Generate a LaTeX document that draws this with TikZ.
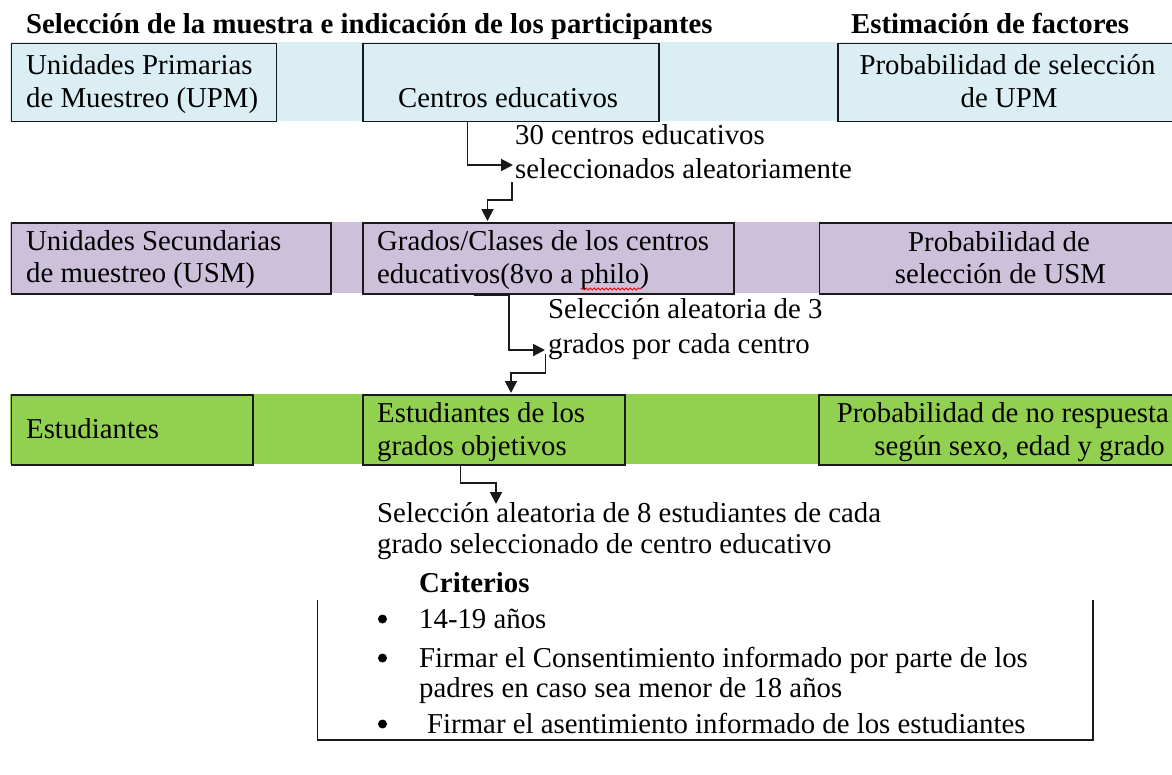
\documentclass[tikz,border=0pt]{standalone}
\usepackage{fontspec}
\setmainfont{Liberation Serif}
\usetikzlibrary{arrows.meta,decorations.pathmorphing}
\definecolor{bandblue}{HTML}{DAEEF3}
\definecolor{bandlav}{HTML}{CCC0DA}
\definecolor{bandgreen}{HTML}{92D050}
\definecolor{ink}{HTML}{1A1A1A}
\begin{document}
\begin{tikzpicture}[x=1pt,y=-1pt,
  box/.style={draw=ink, line width=1.9pt, inner sep=0pt, anchor=north west},
  lw/.style={font=\fontsize{28.8}{33}\selectfont, inner sep=0pt, anchor=base west, text=black},
  lc/.style={lw, anchor=base},
  le/.style={lw, anchor=base east},
  hd/.style={lw, font=\fontsize{28.8}{33}\selectfont\bfseries},
  conn/.style={draw=ink, line width=1.9pt, -{Triangle[length=12pt,width=12pt]}},
  frame/.style={draw=ink, line width=1.8pt},
  dot/.style={circle, fill=black, inner sep=0pt, minimum size=9pt},
  squig/.style={draw=red, line width=0.8pt, decorate, decoration={snake, amplitude=1.1pt, segment length=4pt}}
]
\useasboundingbox (0,0) rectangle (1172,774);
\fill[white] (0,0) rectangle (1172,774);

% bands
\fill[bandblue] (10,42) rectangle (1180,120.5);
\fill[bandlav] (10,222) rectangle (1180,293);
\fill[bandgreen] (10,394) rectangle (1180,464);

% headings
\node[hd] (h1) at (26,33) {Selección de la muestra e indicación de los participantes};
\node[hd] (h2) at (851,33) {Estimación de factores};

% row 1
\node[box, fill=bandblue, minimum width=265, minimum height=78] (upm) at (10.5,42.5) {};
\node[box, fill=bandblue, minimum width=296, minimum height=78] (centros) at (362,42.5) {};
\node[box, fill=bandblue, minimum width=345, minimum height=78] (pupm) at (837,42.5) {};
\node[lw] (t11) at (26,74) {Unidades Primarias};
\node[lw] (t12) at (26,107) {de Muestreo (UPM)};
\node[lw] (t13) at (398,107) {Centros educativos};
\node[lc] (t14) at (1007.5,74) {Probabilidad de selección};
\node[lc] (t15) at (1009,107) {de UPM};

% row 2
\node[box, fill=bandlav, minimum width=319.5, minimum height=71] (usm) at (10.5,222) {};
\node[box, fill=bandlav, minimum width=371, minimum height=71] (grados) at (362,222) {};
\node[box, fill=bandlav, minimum width=360, minimum height=71] (pusm) at (818.5,222) {};
\node[lw] (t21) at (26,250) {Unidades Secundarias};
\node[lw] (t22) at (26,282) {de muestreo (USM)};
\node[lw] (t23) at (377,250) {Grados/Clases de los centros};
\node[lw] (t24) at (377,283) {educativos(8vo a philo)};
\node[lc] (t25) at (999,251) {Probabilidad de};
\node[lc] (t26) at (1000.5,283) {selección de USM};
\draw[squig] (581,289) -- (641,289);

% row 3
\node[box, fill=bandgreen, minimum width=241.5, minimum height=70] (est) at (10.5,394) {};
\node[box, fill=bandgreen, minimum width=262, minimum height=70] (estg) at (362,394) {};
\node[box, fill=bandgreen, minimum width=360, minimum height=70] (pnr) at (818,394) {};
\node[lw] (t31) at (26,438) {Estudiantes};
\node[lw] (t32) at (377,422) {Estudiantes de los};
\node[lw] (t33) at (377,455) {grados objetivos};
\node[le] (t34) at (1169,422) {Probabilidad de no respuesta};
\node[le] (t35) at (1165,455) {según sexo, edad y grado};

% labels of connectors
\node[lw] (l1a) at (515,144) {30 centros educativos};
\node[lw] (l1b) at (515,178) {seleccionados aleatoriamente};
\node[lw] (l2a) at (548,318) {Selección aleatoria de 3};
\node[lw] (l2b) at (548,353) {grados por cada centro};
\node[lw] (l3a) at (377,522) {Selección aleatoria de 8 estudiantes de cada};
\node[lw] (l3b) at (377,553) {grado seleccionado de centro educativo};

% connectors
\coordinate (a1b) at (467.5,165);
\coordinate (a1e) at (513,165);
\draw[conn] (centros.south -| a1b) -- (a1b) -- (a1e);
\coordinate (a2s) at (511.7,182);
\coordinate (a2b) at (511.7,200);
\coordinate (a2c) at (487.5,200);
\draw[conn] (a2s) -- (a2b) -- (a2c) -- ([yshift=1pt]a2c |- grados.north);

\coordinate (a3x) at (474,0);
\coordinate (a3b) at (509,350);
\coordinate (a3e) at (545,350);
\draw[conn] (grados.south -| a3x) -- (grados.south -| a3b) -- (a3b) -- (a3e);
\coordinate (a4s) at (545.5,354);
\coordinate (a4b) at (545.5,373);
\coordinate (a4c) at (511,373);
\draw[conn] (a4s) -- (a4b) -- (a4c) -- ([yshift=1pt]a4c |- estg.north);

\coordinate (a5a) at (460.5,483);
\coordinate (a5b) at (496,483);
\coordinate (a5e) at (496,504);
\draw[conn] (estg.south -| a5a) -- (a5a) -- (a5b) -- (a5e);

% criteria
\node[hd] (crit) at (419,592) {Criterios};
\coordinate (fr1) at (317.5,600);
\coordinate (fr2) at (317.5,740);
\coordinate (fr3) at (1092.7,740);
\coordinate (fr4) at (1092.7,600);
\draw[frame] (fr1) -- (fr2) -- (fr3) -- (fr4);
\node[dot] (b1) at (382.5,619) {};
\node[dot] (b2) at (382.5,658) {};
\node[dot] (b3) at (382.5,724) {};
\node[lw] (c1) at (419,628) {14-19 años};
\node[lw] (c2) at (419,667) {Firmar el Consentimiento informado por parte de los};
\node[lw] (c3) at (419,697) {padres en caso sea menor de 18 años};
\node[lw] (c4) at (427,733) {Firmar el asentimiento informado de los estudiantes};
\end{tikzpicture}
\end{document}
